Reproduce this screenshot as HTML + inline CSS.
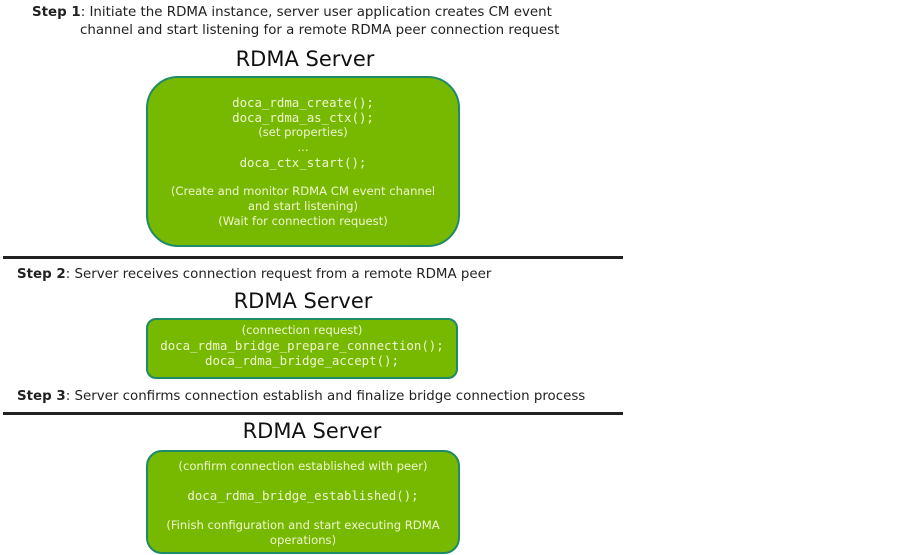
<!DOCTYPE html>
<html><head><style>
body{margin:0;width:901px;height:555px;background:#fff;position:relative;overflow:hidden;font-family:"DejaVu Sans","Liberation Sans",sans-serif;}
.a{position:absolute;white-space:nowrap}
.step{font-size:13.4px;color:#222}
.title{font-size:21px;color:#111;text-align:center;width:320px}
.box{position:absolute;background:#76b900;border:2px solid #1f8a68;box-sizing:border-box;color:#f0f6d0;text-align:center}
.m{font-family:"DejaVu Sans Mono","Liberation Mono",monospace;font-size:12.4px}
.s{font-size:11.6px}
.line{position:absolute;left:3px;width:620px;height:3px;background:#222}
</style></head><body>
<div class="a step" style="left:32px;top:5px"><b>Step 1</b>: Initiate the RDMA instance, server user application creates CM event</div>
<div class="a step" style="left:80px;top:23px">channel and start listening for a remote RDMA peer connection request</div>
<div class="a title" style="left:145px;top:47px">RDMA Server</div>
<div class="box" style="left:146px;top:76px;width:314px;height:171px;border-radius:32px;padding-top:17px;line-height:15px">
<div class="m">doca_rdma_create();</div>
<div class="m">doca_rdma_as_ctx();</div>
<div class="s">(set properties)</div>
<div class="s">...</div>
<div class="m">doca_ctx_start();</div>
<div class="s" style="margin-top:14px">(Create and monitor RDMA CM event channel</div>
<div class="s">and start listening)</div>
<div class="s">(Wait for connection request)</div>
</div>
<div class="line" style="top:256px"></div>
<div class="a step" style="left:17px;top:267px"><b>Step 2</b>: Server receives connection request from a remote RDMA peer</div>
<div class="a title" style="left:143px;top:289px">RDMA Server</div>
<div class="box" style="left:146px;top:318px;width:312px;height:61px;border-radius:10px;padding-top:3px;line-height:15px">
<div class="s">(connection request)</div>
<div class="m">doca_rdma_bridge_prepare_connection();</div>
<div class="m">doca_rdma_bridge_accept();</div>
</div>
<div class="a step" style="left:17px;top:389px"><b>Step 3</b>: Server confirms connection establish and finalize bridge connection process</div>
<div class="line" style="top:412px"></div>
<div class="a title" style="left:152px;top:419px">RDMA Server</div>
<div class="box" style="left:146px;top:450px;width:314px;height:104px;border-radius:16px;padding-top:7px;line-height:15px">
<div class="s">(confirm connection established with peer)</div>
<div class="m" style="margin-top:14px">doca_rdma_bridge_established();</div>
<div class="s" style="margin-top:15px">(Finish configuration and start executing RDMA</div>
<div class="s">operations)</div>
</div>
</body></html>
